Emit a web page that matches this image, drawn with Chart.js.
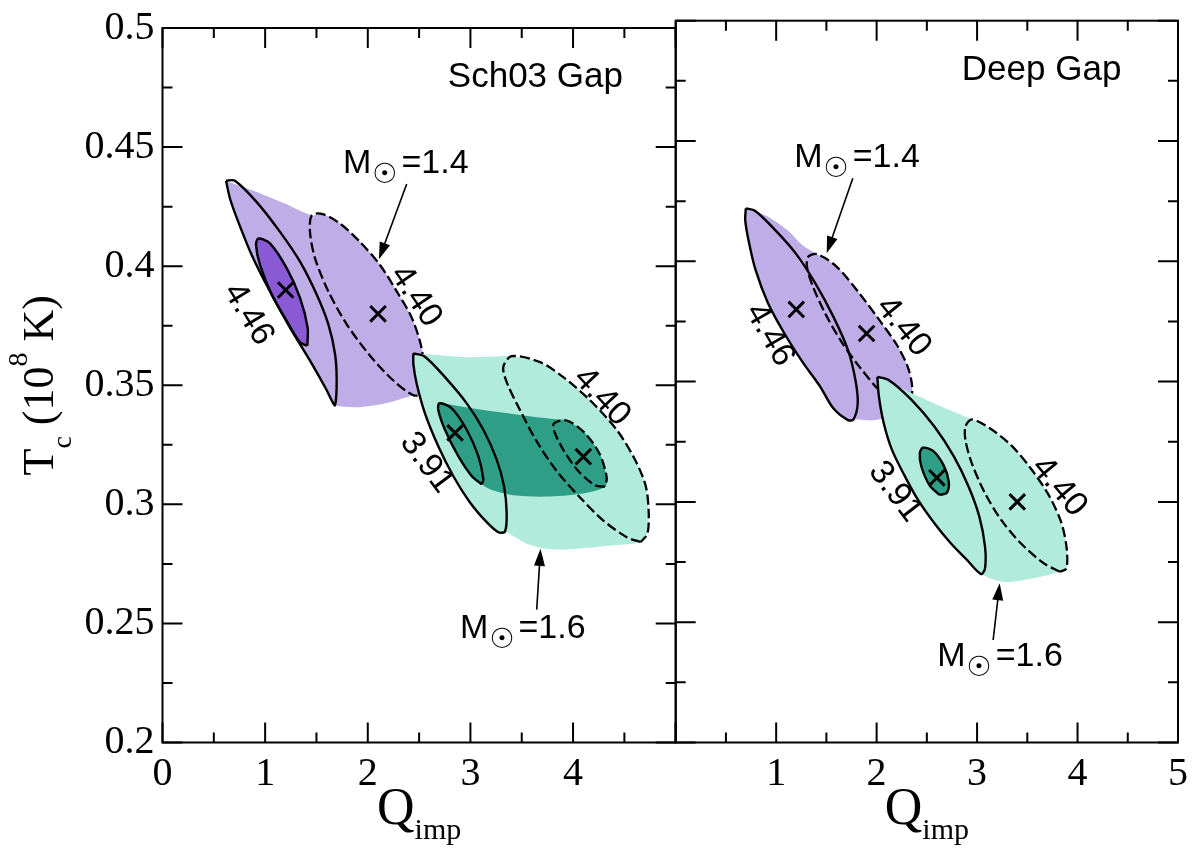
<!DOCTYPE html>
<html>
<head>
<meta charset="utf-8">
<script src="https://cdn.jsdelivr.net/npm/chart.js@4.4.1/dist/chart.umd.min.js"></script>
<style>
html, body { margin:0; padding:0; background:#fff; }
#wrap { position:relative; width:1200px; height:849px; overflow:hidden; }
canvas { position:absolute; top:0; }
#left { left:0; width:700px; height:849px; }
#right { left:660px; width:540px; height:849px; }
</style>
</head>
<body>
<div id="wrap">
<canvas id="left" width="700" height="849"></canvas>
<canvas id="right" width="540" height="849"></canvas>
</div>
<script>
// axes
const xMajor = [0, 1, 2, 3, 4, 5];
const xMinor = [0.5, 1.5, 2.5, 3.5, 4.5];
const yMajor = [0.2, 0.25, 0.3, 0.35, 0.4, 0.45, 0.5];
const yMinor = [0.225, 0.275, 0.325, 0.375, 0.425, 0.475];
const yTickLabels = ['0.2', '0.25', '0.3', '0.35', '0.4', '0.45', '0.5'];
const schXLabels = ['0', '1', '2', '3', '4', ''];
const deepXLabels = ['', '1', '2', '3', '4', '5'];

// Sch03 gap panel, contours as (Q_imp, T_c)
const sch_m14_band = [[0.619,0.4359],[0.885,0.4317],[1.177,0.4266],[1.454,0.4213],[1.551,0.4220],[1.729,0.4179],[1.924,0.4102],[2.119,0.4005],[2.282,0.3894],[2.428,0.3784],[2.515,0.3673],[2.558,0.3562],[2.525,0.3465],[2.444,0.3458],[2.184,0.3425],[1.924,0.3408],[1.681,0.3416],[1.648,0.3437],[1.600,0.3479],[1.437,0.3603],[1.242,0.3742],[1.047,0.3894],[0.869,0.4047],[0.739,0.4185],[0.658,0.4283],[0.619,0.4359]];
const sch_m14_q446 = [[0.619,0.4359],[0.706,0.4359],[0.918,0.4269],[1.145,0.4144],[1.340,0.4019],[1.502,0.3881],[1.616,0.3756],[1.681,0.3631],[1.697,0.3520],[1.681,0.3416],[1.648,0.3437],[1.600,0.3479],[1.437,0.3603],[1.242,0.3742],[1.047,0.3894],[0.869,0.4047],[0.739,0.4185],[0.658,0.4283],[0.619,0.4359]];
const sch_m14_q446_in = [[1.411,0.3666],[1.340,0.3680],[1.210,0.3770],[1.064,0.3881],[0.950,0.4005],[0.911,0.4089],[0.934,0.4116],[1.047,0.4096],[1.210,0.3992],[1.340,0.3867],[1.414,0.3742],[1.411,0.3666]];
const sch_m14_q440 = [[2.558,0.3562],[2.525,0.3465],[2.444,0.3458],[2.249,0.3520],[2.022,0.3624],[1.795,0.3756],[1.616,0.3894],[1.486,0.4033],[1.437,0.4144],[1.454,0.4213],[1.551,0.4220],[1.729,0.4179],[1.924,0.4102],[2.119,0.4005],[2.282,0.3894],[2.428,0.3784],[2.515,0.3673],[2.558,0.3562]];
const sch_m16_band = [[2.444,0.3634],[2.638,0.3628],[2.964,0.3618],[3.223,0.3621],[3.402,0.3622],[3.678,0.3597],[3.905,0.3534],[4.165,0.3437],[4.425,0.3313],[4.603,0.3188],[4.708,0.3077],[4.737,0.2966],[4.724,0.2876],[4.659,0.2842],[4.39,0.2828],[4.07,0.2815],[3.78,0.2812],[3.55,0.2835],[3.337,0.2886],[3.272,0.2883],[3.159,0.2925],[2.996,0.3008],[2.833,0.3119],[2.687,0.3244],[2.557,0.3382],[2.476,0.3507],[2.444,0.3590],[2.444,0.3634]];
const sch_m16_core = [[2.687,0.3428],[2.964,0.3407],[3.288,0.3387],[3.613,0.3368],[3.840,0.3357],[3.938,0.3352],[4.116,0.3299],[4.262,0.3209],[4.328,0.3112],[4.312,0.3074],[4.133,0.3049],[3.775,0.3033],[3.418,0.3038],[3.191,0.3063],[3.110,0.3084],[3.012,0.3119],[2.882,0.3202],[2.752,0.3313],[2.687,0.3396],[2.687,0.3428]];
const sch_m16_q391 = [[2.444,0.3634],[2.557,0.3620],[2.752,0.3534],[2.964,0.3424],[3.126,0.3313],[3.256,0.3188],[3.327,0.3077],[3.353,0.2966],[3.337,0.2886],[3.272,0.2883],[3.159,0.2925],[2.996,0.3008],[2.833,0.3119],[2.687,0.3244],[2.557,0.3382],[2.476,0.3507],[2.444,0.3590],[2.444,0.3634]];
const sch_m16_q391_in = [[3.110,0.3084],[3.012,0.3119],[2.882,0.3202],[2.752,0.3313],[2.687,0.3396],[2.697,0.3424],[2.818,0.3403],[2.964,0.3313],[3.077,0.3202],[3.126,0.3105],[3.110,0.3084]];
const sch_m16_q440 = [[4.659,0.2842],[4.523,0.2862],[4.295,0.2932],[4.068,0.3029],[3.840,0.3140],[3.646,0.3264],[3.483,0.3396],[3.359,0.3507],[3.320,0.3576],[3.402,0.3622],[3.678,0.3597],[3.905,0.3534],[4.165,0.3437],[4.425,0.3313],[4.603,0.3188],[4.708,0.3077],[4.737,0.2966],[4.724,0.2876],[4.659,0.2842]];
const sch_m16_q440_in = [[4.312,0.3074],[4.214,0.3080],[4.051,0.3140],[3.905,0.3229],[3.817,0.3306],[3.814,0.3340],[3.938,0.3352],[4.116,0.3299],[4.262,0.3209],[4.328,0.3112],[4.312,0.3074]];
const sch_best = [[1.2,0.39],[2.1,0.38],[2.85,0.33],[4.1,0.32]];

// Deep gap panel
const deep_m14_band = [[0.698,0.4220],[0.919,0.4185],[1.130,0.4123],[1.260,0.4068],[1.406,0.4030],[1.601,0.3978],[1.828,0.3867],[2.039,0.3749],[2.202,0.3652],[2.309,0.3562],[2.354,0.3479],[2.331,0.3410],[2.251,0.3375],[1.990,0.3340],[1.770,0.3343],[1.715,0.3340],[1.569,0.3389],[1.438,0.3479],[1.260,0.3583],[1.081,0.3701],[0.919,0.3826],[0.795,0.3964],[0.724,0.4089],[0.692,0.4172],[0.698,0.4220]];
const deep_m14_q446 = [[0.698,0.4220],[0.789,0.4210],[0.984,0.4133],[1.195,0.4033],[1.389,0.3909],[1.569,0.3770],[1.715,0.3631],[1.789,0.3507],[1.812,0.3410],[1.770,0.3343],[1.715,0.3340],[1.569,0.3389],[1.438,0.3479],[1.260,0.3583],[1.081,0.3701],[0.919,0.3826],[0.795,0.3964],[0.724,0.4089],[0.692,0.4172],[0.698,0.4220]];
const deep_m14_q440 = [[2.251,0.3396],[2.056,0.3451],[1.828,0.3562],[1.649,0.3666],[1.487,0.3784],[1.367,0.3894],[1.309,0.3971],[1.315,0.4017],[1.406,0.4030],[1.601,0.3978],[1.828,0.3867],[2.039,0.3749],[2.202,0.3652],[2.309,0.3562],[2.354,0.3479],[2.331,0.3410],[2.251,0.3396]];
const deep_m16_band = [[2.007,0.3520],[2.283,0.3465],[2.607,0.3403],[2.948,0.3343],[3.127,0.3306],[3.338,0.3236],[3.533,0.3140],[3.712,0.3029],[3.835,0.2918],[3.890,0.2814],[3.890,0.2724],[3.825,0.2710],[3.549,0.2682],[3.257,0.2668],[3.040,0.2700],[2.899,0.2759],[2.738,0.2828],[2.575,0.2911],[2.412,0.3008],[2.283,0.3105],[2.153,0.3216],[2.071,0.3327],[2.023,0.3437],[2.007,0.3520]];
const deep_m16_q391 = [[2.007,0.3520],[2.120,0.3507],[2.348,0.3424],[2.575,0.3313],[2.770,0.3188],[2.916,0.3063],[3.023,0.2938],[3.079,0.2814],[3.079,0.2724],[3.040,0.2700],[2.899,0.2759],[2.738,0.2828],[2.575,0.2911],[2.412,0.3008],[2.283,0.3105],[2.153,0.3216],[2.071,0.3327],[2.023,0.3437],[2.007,0.3520]];
const deep_m16_q391_in = [[2.624,0.3029],[2.526,0.3070],[2.446,0.3146],[2.430,0.3202],[2.461,0.3225],[2.559,0.3213],[2.666,0.3153],[2.718,0.3084],[2.699,0.3038],[2.624,0.3029]];
const deep_m16_q440 = [[3.825,0.2710],[3.663,0.2745],[3.435,0.2828],[3.240,0.2925],[3.079,0.3036],[2.948,0.3160],[2.884,0.3257],[2.884,0.3313],[2.948,0.3343],[3.127,0.3306],[3.338,0.3236],[3.533,0.3140],[3.712,0.3029],[3.835,0.2918],[3.890,0.2814],[3.890,0.2724],[3.825,0.2710]];
const deep_best = [[1.2,0.38],[1.9,0.37],[2.6,0.31],[3.4,0.30]];

// annotations (data units)
const schTitle = ['Sch03 Gap', 2.78, 0.4754];
const deepTitle = ['Deep Gap', 2.848, 0.4754];
const schSun = [['1.4', 1.759, 0.4392], ['1.6', 2.899, 0.2440]];
const deepSun = [['1.4', 1.18, 0.4392], ['1.6', 2.604, 0.2318]];
const schArrows = [[2.379, 0.4345, 2.109, 0.4029], [3.646, 0.2558, 3.683, 0.2813]];
const deepArrows = [[1.763, 0.4345, 1.503, 0.4033], [3.160, 0.2426, 3.225, 0.2662]];
const schTags = [['4.46', 0.836, 0.3798, 58.6], ['4.40', 2.467, 0.3874, 56], ['3.91', 2.574, 0.3174, 53], ['4.40', 4.279, 0.3451, 47]];
const deepTags = [['4.46', 0.935, 0.3694, 60], ['4.40', 2.266, 0.3728, 51], ['3.91', 2.185, 0.3042, 52.6], ['4.40', 3.815, 0.3063, 50]];

const LIGHT_PURPLE = '#BFADE8';
const DARK_PURPLE = '#8A5AD4';
const LIGHT_TEAL = '#B0EBDC';
const DARK_TEAL = '#2E9E86';
const SERIF = '"Liberation Serif", "DejaVu Serif", serif';
const SANS = '"Liberation Sans", Arial, sans-serif';

function pts(a) { return a.map(p => ({x: p[0], y: p[1]})); }

function region(a, color) {
    return {data: pts(a), borderWidth: 0, borderColor: 'transparent', backgroundColor: color,
        fill: 'shape', pointRadius: 0, tension: 0.3};
}
function contour(a, dashed, fillColor) {
    return {data: pts(a), borderColor: '#000', borderWidth: dashed ? 2.3 : 2.4,
        borderDash: dashed ? [10, 4] : [], borderJoinStyle: 'round',
        backgroundColor: fillColor || 'transparent', fill: fillColor ? 'shape' : false,
        pointRadius: 0, tension: 0.3};
}
function crosses(a) {
    return {data: pts(a), showLine: false, pointStyle: 'crossRot', pointRadius: 11,
        pointBorderWidth: 3, borderColor: '#000', backgroundColor: '#000'};
}

const framePlugin = {
    id: 'frameTicks',
    afterDraw(chart) {
        const {ctx, chartArea: a} = chart;
        const x = chart.scales.x, y = chart.scales.y;
        ctx.save();
        ctx.strokeStyle = '#000';
        ctx.lineWidth = 2;
        ctx.strokeRect(a.left, a.top, a.right - a.left, a.bottom - a.top);
        ctx.beginPath();
        const vt = (v, len) => {
            const px = x.getPixelForValue(v);
            ctx.moveTo(px, a.bottom); ctx.lineTo(px, a.bottom - len);
            ctx.moveTo(px, a.top); ctx.lineTo(px, a.top + len);
        };
        const ht = (v, len) => {
            const py = y.getPixelForValue(v);
            ctx.moveTo(a.left, py); ctx.lineTo(a.left + len, py);
            ctx.moveTo(a.right, py); ctx.lineTo(a.right - len, py);
        };
        xMajor.forEach(v => vt(v, 20));
        xMinor.forEach(v => vt(v, 10));
        yMajor.forEach(v => ht(v, 20));
        yMinor.forEach(v => ht(v, 10));
        ctx.stroke();
        ctx.restore();
    }
};

function drawRuns(ctx, runs, x, y) {
    let cx = x;
    for (const [t, f, dy, gap] of runs) {
        ctx.font = f;
        ctx.fillText(t, cx, y + dy);
        cx += ctx.measureText(t).width + (gap || 0);
    }
}
function runsWidth(ctx, runs) {
    let w = 0;
    for (const [t, f, dy, gap] of runs) { ctx.font = f; w += ctx.measureText(t).width + (gap || 0); }
    return w;
}

function notesPlugin(cfg) {
    return {
        id: 'notes',
        afterDatasetsDraw(chart) {
            const {ctx, chartArea: a} = chart;
            const x = chart.scales.x, y = chart.scales.y;
            const X = v => x.getPixelForValue(v), Y = v => y.getPixelForValue(v);
            ctx.save();
            ctx.fillStyle = '#000';
            ctx.strokeStyle = '#000';
            ctx.textAlign = 'left';
            ctx.textBaseline = 'alphabetic';

            ctx.font = '35px ' + SANS;
            ctx.fillText(cfg.title[0], X(cfg.title[1]), Y(cfg.title[2]));

            for (const [val, sx, sy] of cfg.sun) {
                drawRuns(ctx, [['M', '34px ' + SANS, 0, 1], ['\u2609', '28px "DejaVu Sans"', 10, 4],
                    ['=' + val, '34px ' + SANS, 0]], X(sx), Y(sy));
            }

            ctx.lineWidth = 1.6;
            for (const [x1, y1, x2, y2] of cfg.arrows) {
                const p1x = X(x1), p1y = Y(y1), p2x = X(x2), p2y = Y(y2);
                const ang = Math.atan2(p2y - p1y, p2x - p1x);
                const hl = 17, hw = 5.5;
                const c = Math.cos(ang), s = Math.sin(ang);
                ctx.beginPath();
                ctx.moveTo(p1x, p1y);
                ctx.lineTo(p2x - hl * 0.8 * c, p2y - hl * 0.8 * s);
                ctx.stroke();
                ctx.beginPath();
                ctx.moveTo(p2x, p2y);
                ctx.lineTo(p2x - hl * c + hw * s, p2y - hl * s - hw * c);
                ctx.lineTo(p2x - hl * c - hw * s, p2y - hl * s + hw * c);
                ctx.closePath();
                ctx.fill();
            }

            ctx.font = '34px ' + SANS;
            ctx.textAlign = 'center';
            ctx.textBaseline = 'middle';
            for (const [t, tx, ty, deg] of cfg.tags) {
                ctx.save();
                ctx.translate(X(tx), Y(ty));
                ctx.rotate(deg * Math.PI / 180);
                ctx.fillText(t, 0, 0);
                ctx.restore();
            }

            // axis titles
            ctx.textAlign = 'left';
            ctx.textBaseline = 'alphabetic';
            const qRuns = [['Q', '52px ' + SERIF, 0], ['imp', '30px ' + SERIF, 15]];
            const qw = runsWidth(ctx, qRuns);
            drawRuns(ctx, qRuns, (a.left + a.right) / 2 - qw / 2, 824);

            if (cfg.yTitle) {
                const tRuns = [['T', '44px ' + SERIF, 0], ['c', '28px ' + SERIF, 18], [' (10', '44px ' + SERIF, 0],
                    ['8', '28px ' + SERIF, -26], [' K)', '44px ' + SERIF, 0]];
                const tw = runsWidth(ctx, tRuns);
                ctx.translate(53, (a.top + a.bottom) / 2);
                ctx.rotate(-Math.PI / 2);
                drawRuns(ctx, tRuns, -tw / 2, 0);
            }
            ctx.restore();
        }
    };
}

function makeChart(id, datasets, xLabels, left, notes) {
    const n = datasets.length;
    datasets.forEach((d, i) => { d.order = n - i; });
    return new Chart(document.getElementById(id), {
        type: 'line',
        data: {datasets: datasets},
        options: {
            responsive: false,
            animation: false,
            devicePixelRatio: 1,
            layout: {padding: left ? {left: 0, right: 24.3, top: 20.7, bottom: 0}
                                  : {left: 15.7, right: 11, top: 20.7, bottom: 0}},
            plugins: {legend: {display: false}, tooltip: {enabled: false}},
            scales: {
                x: {
                    type: 'linear', min: 0, max: 5,
                    grid: {display: false, drawTicks: false}, border: {display: false},
                    ticks: {stepSize: 1, color: '#000', padding: 12, maxRotation: 0,
                        font: {family: SERIF, size: 40, lineHeight: 1},
                        callback: (v, i) => xLabels[i]},
                    afterFit: s => { s.height = 106.5; }
                },
                y: {
                    type: 'linear', min: 0.2, max: 0.5, display: left,
                    grid: {display: false, drawTicks: false}, border: {display: false},
                    ticks: {stepSize: 0.05, color: '#000', padding: 8,
                        font: {family: SERIF, size: 40, lineHeight: 1},
                        callback: (v, i) => yTickLabels[i]},
                    afterFit: s => { s.width = left ? 162.5 : 0; }
                }
            }
        },
        plugins: [framePlugin, notesPlugin(notes)]
    });
}

makeChart('left', [
    region(sch_m14_band, LIGHT_PURPLE),
    contour(sch_m14_q446_in, false, DARK_PURPLE),
    contour(sch_m14_q446, false),
    contour(sch_m14_q440, true),
    region(sch_m16_band, LIGHT_TEAL),
    region(sch_m16_core, DARK_TEAL),
    contour(sch_m16_q391_in, false),
    contour(sch_m16_q440_in, true),
    contour(sch_m16_q391, false),
    contour(sch_m16_q440, true),
    crosses(sch_best)
], schXLabels, true, {title: schTitle, sun: schSun, arrows: schArrows, tags: schTags, yTitle: true});

makeChart('right', [
    region(deep_m14_band, LIGHT_PURPLE),
    contour(deep_m14_q446, false),
    contour(deep_m14_q440, true),
    region(deep_m16_band, LIGHT_TEAL),
    contour(deep_m16_q391_in, false, DARK_TEAL),
    contour(deep_m16_q391, false),
    contour(deep_m16_q440, true),
    crosses(deep_best)
], deepXLabels, false, {title: deepTitle, sun: deepSun, arrows: deepArrows, tags: deepTags, yTitle: false});
</script>
</body>
</html>
